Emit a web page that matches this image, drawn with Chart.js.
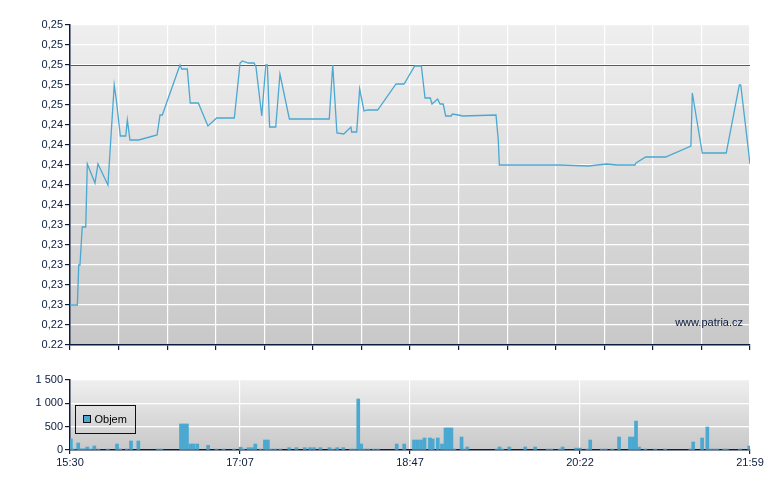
<!DOCTYPE html>
<html>
<head>
<meta charset="utf-8">
<script src="https://cdn.jsdelivr.net/npm/chart.js@4.4.1/dist/chart.umd.min.js"></script>
<style>
  body { margin: 0; background: #fff; }
  #wrap { position: relative; width: 780px; height: 490px; }
  .box { position: absolute; left: 0; width: 780px; }
</style>
</head>
<body>
<div id="wrap">
  <div class="box" style="top:0;height:360px"><canvas id="price"></canvas></div>
  <div class="box" style="top:360px;height:130px"><canvas id="volume"></canvas></div>
</div>
<script>
// minutes after 15:30
const priceTimes = [0, 4.2, 5.0, 5.7, 7.0, 9.0, 9.9, 14.3, 16.0, 21.7,
  25.3, 26.5, 28.8, 31.9, 32.8, 34.3, 39.3, 49.8, 51.5, 52.8,
  62.9, 63.9, 67.1, 68.8, 73.4, 78.9, 83.9, 94.0, 97.3, 98.6,
  102.0, 105.3, 106.4, 109.7, 112.0, 112.9, 114.2, 117.7, 120.1, 125.5,
  148.3, 150.3, 152.7, 156.6, 160.7, 161.1, 164.0, 165.7, 168.2, 170.1,
  176.0, 186.5, 191.1, 197.2, 201.0, 203.1, 206.1, 207.1, 210.3, 211.7,
  213.5, 214.9, 218.1, 218.7, 222.1, 224.6, 243.7, 245.0, 245.6, 265.0,
  280.3, 296.5, 307.0, 312.7, 323.2, 323.8, 329.3, 340.7, 355.2, 356.0,
  361.7, 375.4, 382.9, 383.7, 389];
const priceValues = [0.2260, 0.2260, 0.2300, 0.2300, 0.2338, 0.2338, 0.2401, 0.2382, 0.2401, 0.2380,
  0.2480, 0.2465, 0.2429, 0.2429, 0.2445, 0.2425, 0.2425, 0.2430, 0.2450, 0.2450,
  0.2500, 0.2496, 0.2496, 0.2462, 0.2462, 0.2439, 0.2447, 0.2447, 0.2502, 0.2504,
  0.2502, 0.2502, 0.2498, 0.2449, 0.2500, 0.2500, 0.2438, 0.2438, 0.2491, 0.2446,
  0.2446, 0.2500, 0.2432, 0.2431, 0.2438, 0.2433, 0.2433, 0.2476, 0.2454, 0.2455,
  0.2455, 0.2481, 0.2481, 0.2499, 0.2499, 0.2467, 0.2467, 0.2461, 0.2466, 0.2461,
  0.2461, 0.2449, 0.2449, 0.2451, 0.2450, 0.2449, 0.2450, 0.2425, 0.2400, 0.2400,
  0.2400, 0.2399, 0.2401, 0.2400, 0.2400, 0.2402, 0.2408, 0.2408, 0.2419, 0.2472,
  0.2412, 0.2412, 0.2480, 0.2480, 0.2401];
const refPrice = 0.250;

const volTimes = [0.5, 1.9, 4.7, 6.3, 8.0, 9.9, 11.8, 13.9, 16.2, 21.6,
  26.9, 28.8, 32.5, 34.9, 39.1, 50.3, 52.3, 63.5, 65.2, 66.9,
  68.9, 70.6, 72.8, 79.0, 83.8, 87.9, 93.8, 97.6, 99.1, 102.1,
  104.2, 106.0, 109.0, 111.5, 113.2, 114.9, 117.3, 120.3, 125.4, 129.5,
  134.3, 137.3, 139.6, 143.2, 148.4, 150.3, 152.9, 156.3, 160.7, 162.7,
  164.9, 166.6, 168.4, 170.8, 173.8, 176.2, 186.9, 191.2, 196.8, 198.8,
  200.8, 202.8, 205.9, 207.5, 210.4, 212.8, 214.8, 216.5, 218.2, 219.9,
  224.0, 225.7, 227.3, 244.0, 245.7, 247.4, 251.3, 260.4, 266.1, 273.3,
  275.4, 280.1, 281.8, 289.5, 291.8, 295.9, 297.6, 304.2, 306.4, 310.2,
  314.1, 320.3, 322.1, 323.8, 325.5, 329.1, 334.8, 340.5, 354.8, 356.5,
  361.6, 364.6, 366.3, 368.4, 370.3, 374.1, 375.8, 383.2, 388.6];
const volValues = [236, 20, 150, 25, 25, 64, 20, 85, 20, 20,
  128, 20, 20, 193, 193, 20, 20, 557, 557, 557,
  128, 128, 128, 100, 20, 20, 20, 60, 20, 50,
  50, 128, 20, 214, 214, 20, 20, 20, 50, 50,
  50, 50, 50, 50, 50, 20, 50, 50, 20, 20,
  1093, 128, 20, 20, 20, 20, 128, 128, 214, 214,
  214, 257, 257, 236, 257, 128, 471, 471, 471, 20,
  278, 20, 64, 20, 64, 20, 64, 64, 64, 20,
  20, 20, 64, 40, 40, 20, 214, 20, 20, 20,
  278, 278, 278, 621, 64, 20, 20, 20, 20, 171,
  257, 493, 20, 20, 20, 20, 20, 20, 85];

const priceTickValues = [0.222, 0.224, 0.226, 0.228, 0.230, 0.232, 0.234, 0.236, 0.238,
  0.240, 0.242, 0.244, 0.246, 0.248, 0.250, 0.252, 0.254];
const priceTickLabels = ['0.22', '0,22', '0,23', '0,23', '0,23', '0,23', '0,23', '0,24', '0,24',
  '0,24', '0,24', '0,24', '0,25', '0,25', '0,25', '0,25', '0,25'];
const volTickValues = [0, 500, 1000, 1500];
const volTickLabels = ['0', '500', '1 000', '1 500'];
const timeTickValues = [0, 97.25, 194.5, 291.75, 389];
const timeTickLabels = ['15:30', '17:07', '18:47', '20:22', '21:59'];

const navy = '#0b1c3f';
const blue = '#4aa8d1';
const sessionEnd = 389;

Chart.defaults.font.family = '"Liberation Sans", Arial, sans-serif';
Chart.defaults.font.size = 11;
Chart.defaults.color = navy;

// gray gradient behind the plot
const plotBg = {
  id: 'plotBg',
  beforeDraw(chart) {
    const { ctx, chartArea: a } = chart;
    const g = ctx.createLinearGradient(0, a.top, 0, a.bottom);
    g.addColorStop(0, '#efefef');
    g.addColorStop(1, '#c8c8c8');
    ctx.save();
    ctx.fillStyle = g;
    ctx.fillRect(a.left, a.top, a.right - a.left, a.bottom - a.top);
    ctx.restore();
  }
};

// previous close line, snapped to a pixel so it stays crisp
const refLine = {
  id: 'refLine',
  beforeDatasetsDraw(chart) {
    const { ctx, chartArea: a, scales } = chart;
    const y = Math.round(scales.y.getPixelForValue(refPrice)) + 0.5;
    ctx.save();
    ctx.strokeStyle = '#c42f2a';
    ctx.lineWidth = 1;
    ctx.beginPath();
    ctx.moveTo(a.left, y);
    ctx.lineTo(a.right, y);
    ctx.stroke();
    ctx.restore();
  }
};

const watermark = {
  id: 'watermark',
  afterDatasetsDraw(chart) {
    const { ctx, chartArea: a } = chart;
    ctx.save();
    ctx.fillStyle = navy;
    ctx.font = '11px "Liberation Sans", Arial, sans-serif';
    ctx.textAlign = 'right';
    ctx.textBaseline = 'middle';
    ctx.fillText('www.patria.cz', a.right - 7, a.bottom - 22);
    ctx.restore();
  }
};

const boxLegend = {
  id: 'boxLegend',
  afterDraw(chart) {
    const { ctx, chartArea: a } = chart;
    const ds = chart.data.datasets[0];
    const x = a.left + 5.5, y = a.top + 25.5;
    ctx.save();
    ctx.strokeStyle = '#111';
    ctx.lineWidth = 1;
    ctx.strokeRect(x, y, 60, 28);
    ctx.fillStyle = ds.backgroundColor;
    ctx.fillRect(x + 8, y + 10, 7, 7);
    ctx.strokeRect(x + 8, y + 10, 7, 7);
    ctx.fillStyle = '#000';
    ctx.font = '11px "Liberation Sans", Arial, sans-serif';
    ctx.textBaseline = 'middle';
    ctx.fillText(ds.label, x + 19, y + 14.5);
    ctx.restore();
  }
};

const xMinor = [];
for (let i = 0; i <= 14; i++) xMinor.push(sessionEnd * i / 14);

new Chart(document.getElementById('price'), {
  type: 'line',
  data: {
    datasets: [{
      label: 'Cena',
      data: priceTimes.map((t, i) => ({ x: t, y: priceValues[i] })),
      borderColor: blue,
      borderWidth: 1.3,
      pointRadius: 0,
      tension: 0
    }]
  },
  options: {
    responsive: true,
    maintainAspectRatio: false,
    animation: false,
    layout: { padding: { top: 25, right: 30, left: 0, bottom: 0 } },
    plugins: { legend: { display: false }, tooltip: { enabled: false } },
    scales: {
      x: {
        type: 'linear',
        min: 0,
        max: sessionEnd,
        afterBuildTicks: (s) => { s.ticks = xMinor.map(v => ({ value: v })); },
        afterFit: (s) => { s.height = 15; },
        ticks: { display: false },
        grid: { color: '#ffffff', lineWidth: 1.2, tickColor: navy, tickLength: 5 },
        border: { color: navy, width: 1.5 }
      },
      y: {
        min: 0.222,
        max: 0.254,
        afterBuildTicks: (s) => { s.ticks = priceTickValues.map(v => ({ value: v })); },
        afterFit: (s) => { s.width = 70; },
        ticks: { padding: 2, color: navy, callback: (v, i) => priceTickLabels[i] },
        grid: { color: '#ffffff', lineWidth: 1.2, tickColor: navy, tickLength: 5 },
        border: { color: navy, width: 1.5 }
      }
    }
  },
  plugins: [plotBg, refLine, watermark]
});

new Chart(document.getElementById('volume'), {
  type: 'bar',
  data: {
    datasets: [{
      label: 'Objem',
      data: volTimes.map((t, i) => ({ x: t, y: volValues[i] })),
      backgroundColor: blue,
      barThickness: 3,
      borderWidth: 0
    }]
  },
  options: {
    responsive: true,
    maintainAspectRatio: false,
    animation: false,
    layout: { padding: { top: 20, right: 30, left: 0, bottom: 0 } },
    plugins: { legend: { display: false }, tooltip: { enabled: false } },
    scales: {
      x: {
        type: 'linear',
        min: 0,
        max: sessionEnd,
        offset: false,
        afterBuildTicks: (s) => { s.ticks = timeTickValues.map(v => ({ value: v })); },
        afterFit: (s) => { s.height = 40; },
        ticks: { padding: 2, color: navy, maxRotation: 0, callback: (v, i) => timeTickLabels[i] },
        grid: { offset: false, color: '#ffffff', lineWidth: 1.2, tickColor: navy, tickLength: 4 },
        border: { color: navy, width: 1.5 }
      },
      y: {
        min: 0,
        max: 1500,
        afterBuildTicks: (s) => { s.ticks = volTickValues.map(v => ({ value: v })); },
        afterFit: (s) => { s.width = 70; },
        ticks: { padding: 2, color: navy, callback: (v, i) => volTickLabels[i] },
        grid: { color: '#ffffff', lineWidth: 1.2, tickColor: navy, tickLength: 5 },
        border: { color: navy, width: 1.5 }
      }
    }
  },
  plugins: [plotBg, boxLegend]
});
</script>
</body>
</html>
